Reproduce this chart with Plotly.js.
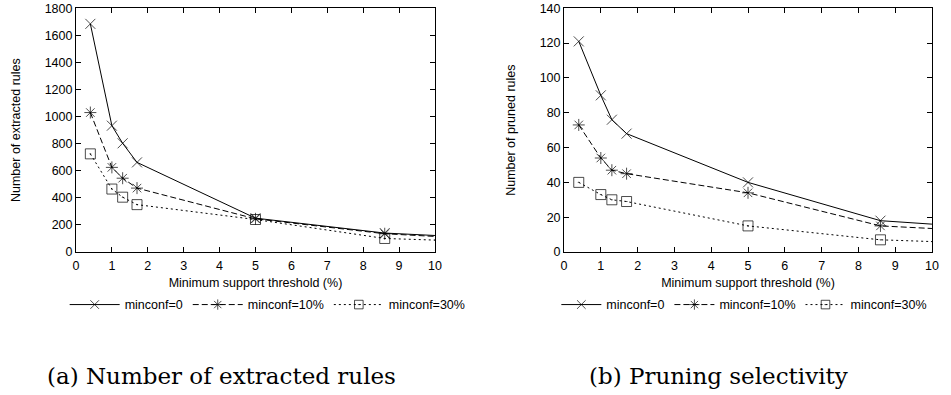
<!DOCTYPE html>
<html>
<head>
<meta charset="utf-8">
<script src="https://cdn.plot.ly/plotly-3.0.1.min.js"></script>
<style>html,body{margin:0;padding:0;background:#fff;}#chart{width:951px;height:395px;}</style>
</head>
<body>
<div id="chart"></div>
<script>
// Minimum support threshold (%)
const support = [0.4, 1.0, 1.3, 1.7, 5.0, 8.6, 10.0];
const seriesNames = ["minconf=0", "minconf=10%", "minconf=30%"];
// (a) Number of extracted rules
const extracted0 = [1685, 933, 803, 662, 250, 140, 122];
const extracted10 = [1030, 625, 545, 472, 245, 135, 115];
const extracted30 = [725, 465, 405, 350, 240, 100, 88];
// (b) Number of pruned rules
const pruned0 = [121, 90, 76, 68, 40, 18, 16];
const pruned10 = [73, 54, 47, 45, 34, 15, 13.5];
const pruned30 = [40, 33, 30, 29, 15, 7, 6];
const xTicks = [0,1,2,3,4,5,6,7,8,9,10];
const yTicksA = [0,200,400,600,800,1000,1200,1400,1600,1800];
const yTicksB = [0,20,40,60,80,100,120,140];

const symbols = ["x-thin-open", "asterisk-open", "square-open-dot"];
const dashes = ["solid", "6px,3px", "2px,3px"];
// last point (x=10) is the line continuing to the frame edge, no marker
const sizes = support.map((v,i)=> i === support.length-1 ? 0 : 10);

function mk(y, k, xa, ya, lg) {
  return {
    x: support, y: y, name: seriesNames[k], type: "scatter", mode: "lines+markers",
    xaxis: xa, yaxis: ya, legend: lg, cliponaxis: true,
    line: {color: "#000", width: 1, dash: dashes[k]},
    marker: {symbol: symbols[k], size: sizes, color: "#000", line: {color: "#000", width: 1}}
  };
}
const data = [
  mk(extracted0, 0, "x", "y", "legend"),
  mk(extracted10, 1, "x", "y", "legend"),
  mk(extracted30, 2, "x", "y", "legend"),
  mk(pruned0, 0, "x2", "y2", "legend2"),
  mk(pruned10, 1, "x2", "y2", "legend2"),
  mk(pruned30, 2, "x2", "y2", "legend2")
];
const font = {family: "Liberation Sans, Arial, sans-serif", size: 12.5, color: "#000"};
function xax(dom, anchor) {
  return {domain: dom, anchor: anchor, range: [0, 10], tickvals: xTicks, ticks: "inside", ticklen: 5,
    tickcolor: "#000", showline: true, linecolor: "#000", linewidth: 1, mirror: "allticks",
    showgrid: false, zeroline: false, tickfont: font, ticklabelstandoff: 2, automargin: false,
    title: {text: "Minimum support threshold (%)", font: font, standoff: 6}};
}
function yax(dom, anchor, rng, vals, title, standoff) {
  return {domain: dom, anchor: anchor, range: rng, tickvals: vals, ticks: "inside", ticklen: 5,
    tickcolor: "#000", showline: true, linecolor: "#000", linewidth: 1, mirror: "allticks",
    showgrid: false, zeroline: false, tickfont: font, automargin: false,
    title: {text: title, font: font, standoff: standoff}};
}
const ydom = [0.362, 0.979];
const legFont = {family: "Liberation Sans, Arial, sans-serif", size: 12.5, color: "#000"};
const capFont = {family: "DejaVu Serif, Liberation Serif, serif", size: 23, color: "#000"};
const layout = {
  width: 951, height: 395, margin: {l: 0, r: 0, t: 0, b: 0, autoexpand: false},
  paper_bgcolor: "#fff", plot_bgcolor: "#fff", showlegend: true,
  xaxis: xax([0.0799, 0.4574], "y"),
  yaxis: yax(ydom, "x", [0, 1800], yTicksA, "Number of extracted rules", 21),
  xaxis2: xax([0.5931, 0.98], "y2"),
  yaxis2: yax(ydom, "x2", [0, 140], yTicksB, "Number of pruned rules", 21),
  legend: {orientation: "h", x: 0.068, y: 0.228, xanchor: "left", yanchor: "middle", font: legFont,
    bgcolor: "rgba(0,0,0,0)", itemwidth: 50, tracegroupgap: 0},
  legend2: {orientation: "h", x: 0.585, y: 0.228, xanchor: "left", yanchor: "middle", font: legFont,
    bgcolor: "rgba(0,0,0,0)", itemwidth: 40, tracegroupgap: 0},
  annotations: [
    {text: "(a) Number of extracted rules", xref: "paper", yref: "paper", x: 0.2324, y: 0.048,
      xanchor: "center", yanchor: "middle", showarrow: false, font: capFont},
    {text: "(b) Pruning selectivity", xref: "paper", yref: "paper", x: 0.756, y: 0.048,
      xanchor: "center", yanchor: "middle", showarrow: false, font: capFont}
  ]
};
Plotly.newPlot("chart", data, layout, {staticPlot: true, displayModeBar: false});
</script>
</body>
</html>
